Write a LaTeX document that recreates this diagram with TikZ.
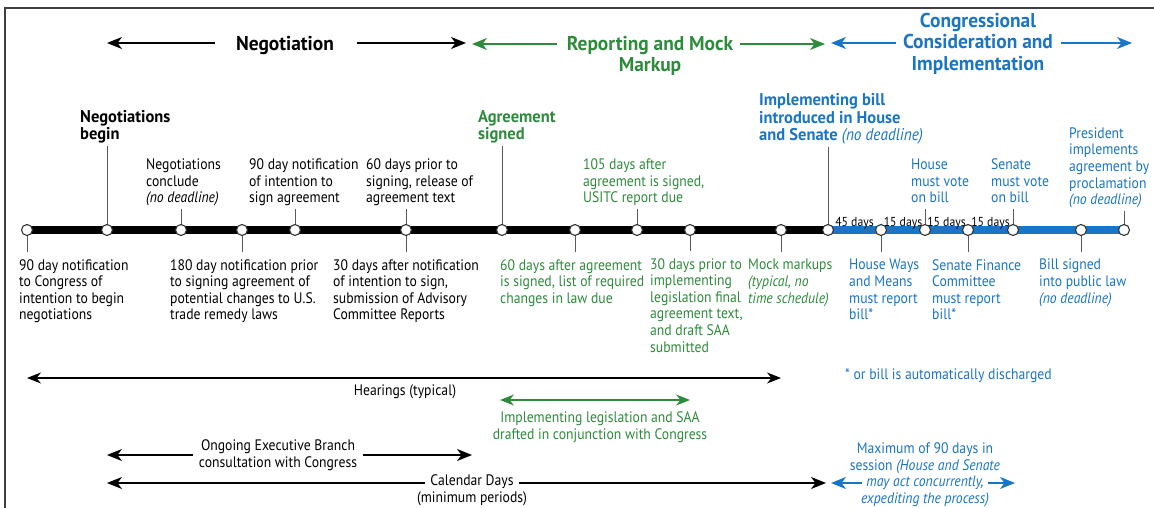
\documentclass[tikz,border=0pt]{standalone}
\usepackage{fontspec}
\setmainfont{PT Sans}[FakeStretch=0.9, BoldFeatures={FakeStretch=0.97}]
\usetikzlibrary{positioning,calc,arrows.meta,backgrounds}
\definecolor{repgreen}{RGB}{46,139,60}
\definecolor{conblue}{RGB}{26,117,196}

\begin{document}
\begin{tikzpicture}[x=1pt, y=1pt,
	ev/.style={circle, draw=black!80, fill=white, line width=1.1pt, minimum size=11pt, inner sep=0pt},
	txt/.style={inner sep=0pt, align=left, font=\fontsize{15.2}{16.6}\selectfont},
	up/.style={txt, anchor=south west, text depth=3pt},
	dn/.style={txt, anchor=north west},
	key/.style={up, font=\fontsize{17}{17.5}\selectfont\bfseries},
	head/.style={inner sep=0pt, align=center, font=\fontsize{20}{21.5}\selectfont\bfseries},
	days/.style={inner sep=0pt, anchor=base, font=\fontsize{13}{13}\selectfont},
	oneline/.style={txt, text height=11pt, text depth=3.5pt},
	stemup/.style={draw=black!65, line width=1pt, shorten >=3pt},
	stemdn/.style={draw=black!65, line width=1pt, shorten >=7pt},
	bar/.style={line width=7.5pt},
	tip/.style={-{Stealth[length=15pt, width=12pt, inset=4.5pt]}, line width=1.6pt},
	both/.style={{Stealth[length=14pt, width=11pt, inset=4.5pt]}-{Stealth[length=14pt, width=11pt, inset=4.5pt]}, line width=1.5pt}]
		\useasboundingbox (0,0) rectangle (1154,-508);
		\draw[black!75, line width=1.3pt] (5,-508) |- (1154,-8);

		\node[head] (neg) at (285,-46) {Negotiation};
		\coordinate (negL) at (107,-43);
		\coordinate (negR) at (466,-43);
		\draw[tip, shorten <=21pt] (neg.west |- negL) -- (negL);
		\draw[tip, shorten <=23pt] (neg.east |- negR) -- (negR);
		\node[head, repgreen, anchor=north] (rep) at (650,-36) {Reporting and Mock\\Markup};
		\coordinate (repL) at (472,-44);
		\coordinate (repR) at (825,-44);
		\draw[tip, repgreen, shorten <=10pt] (rep.west |- repL) -- (repL);
		\draw[tip, repgreen, shorten <=7pt] (rep.east |- repR) -- (repR);
		\node[head, conblue, anchor=north] (con) at (978,-13) {Congressional\\Consideration and\\Implementation};
		\coordinate (conL) at (831,-43);
		\coordinate (conR) at (1132,-43);
		\draw[tip, conblue, shorten <=7pt] (con.west |- conL) -- (conL);
		\draw[tip, conblue, shorten <=8pt] (con.east |- conR) -- (conR);

		\node[ev] (t1) at (27,-230) {};
		\node[ev] (t2) at (107,-230) {};
		\node[ev] (t3) at (181,-230) {};
		\node[ev] (t4) at (242,-230) {};
		\node[ev] (t5) at (295,-230) {};
		\node[ev] (t6) at (406,-230) {};
		\node[ev] (t7) at (502,-230) {};
		\node[ev] (t8) at (575,-230) {};
		\node[ev] (t9) at (637,-230) {};
		\node[ev] (t10) at (690,-230) {};
		\node[ev] (t11) at (781,-230) {};
		\node[ev] (t12) at (828,-230) {};
		\node[ev] (t13) at (881,-230) {};
		\node[ev] (t14) at (925,-230) {};
		\node[ev] (t15) at (968,-230) {};
		\node[ev] (t16) at (1013,-230) {};
		\node[ev] (t17) at (1081,-230) {};
		\node[ev] (t18) at (1124,-230) {};
		\begin{scope}[on background layer]
			\draw[bar] (t1.center) -- (t12.center);
			\draw[bar, conblue] (t12.center) -- (t18.center);
		\end{scope}

		\node[days] (d1) at ($(t12)!.5!(t13)+(0,4)$) {45 days};
		\node[days] (d2) at ($(t13)!.5!(t14)+(0,4)$) {15 days};
		\node[days] (d3) at ($(t14)!.5!(t15)+(0,4)$) {15 days};
		\node[days] (d4) at ($(t15)!.5!(t16)+(0,4)$) {15 days};

		\node[key] (begin) at (80,-143) {Negotiations\\begin};
		\node[up] (conclude) at (146,-206) {Negotiations\\conclude\\\textit{(no deadline)}};
		\node[up] (intent) at (249,-206) {90 day notification\\of intention to\\sign agreement};
		\node[up] (release) at (366,-206) {60 days prior to\\signing, release of\\agreement text};
		\node[key, repgreen] (signed) at (478,-143) {Agreement\\signed};
		\node[up, repgreen] (usitc) at (583,-206) {105 days after\\agreement is signed,\\USITC report due};
		\node[key, conblue] (introduced) at (759,-144) {Implementing bill\\introduced in House\\and Senate \textmd{\textit{(no deadline)}}};
		\node[up, conblue] (housevote) at (911,-206) {House\\must vote\\on bill};
		\node[up, conblue] (senatevote) at (991,-206) {Senate\\must vote\\on bill};
		\node[up, conblue] (proclaim) at (1069,-208) {President\\implements\\agreement by\\proclamation\\\textit{(no deadline)}};

		\node[dn] (start) at (19,-259) {90 day notification\\to Congress of\\intention to begin\\negotiations};
		\node[dn] (remedy) at (170,-259) {180 day notification prior\\to signing agreement of\\potential changes to U.S.\\trade remedy laws};
		\node[dn] (advisory) at (333,-259) {30 days after notification\\of intention to sign,\\submission of Advisory\\Committee Reports};
		\node[dn, repgreen] (changes) at (500,-259) {60 days after agreement\\is signed, list of required\\changes in law due};
		\node[dn, repgreen] (draft) at (650,-258) {30 days prior to\\implementing\\legislation final\\agreement text,\\and draft SAA\\submitted};
		\node[dn, repgreen] (mock) at (748,-259) {Mock markups\\\textit{(typical, no}\\\textit{time schedule)}};
		\node[dn, conblue] (ways) at (849,-259) {House Ways\\and Means\\must report\\bill*};
		\node[dn, conblue] (finance) at (932,-259) {Senate Finance\\Committee\\must report\\bill*};
		\node[dn, conblue] (law) at (1039,-259) {Bill signed\\into public law\\\textit{(no deadline)}};

		\draw[stemup] (t2) -- (t2 |- begin.south);
		\draw[stemup] (t3) -- (t3 |- conclude.south);
		\draw[stemup] (t5) -- (t5 |- intent.south);
		\draw[stemup] (t6) -- (t6 |- release.south);
		\draw[stemup] (t7) -- (t7 |- signed.south);
		\draw[stemup] (t9) -- (t9 |- usitc.south);
		\draw[stemup] (t12) -- (t12 |- introduced.south);
		\draw[stemup] (t14) -- (t14 |- housevote.south);
		\draw[stemup] (t16) -- (t16 |- senatevote.south);
		\draw[stemup] (t18) -- (t18 |- proclaim.south);
		\draw[stemdn] (t1) -- (t1 |- start.north);
		\draw[stemdn] (t4) -- (t4 |- remedy.north);
		\draw[stemdn] (t6) -- (t6 |- advisory.north);
		\draw[stemdn] (t8) -- (t8 |- changes.north);
		\draw[stemdn] (t10) -- (t10 |- draft.north);
		\draw[stemdn] (t11) -- (t11 |- mock.north);
		\draw[stemdn] (t13) -- (t13 |- ways.north);
		\draw[stemdn] (t15) -- (t15 |- finance.north);
		\draw[stemdn] (t17) -- (t17 |- law.north);

		\coordinate (hearL) at (27,-378);
		\coordinate (hearR) at (781,-378);
		\draw[both] (hearL) -- (hearR);
		\node[txt] (hear) at (405,-392) {Hearings (typical)};
		\node[txt, conblue, anchor=west] (star) at (845,-376) {* or bill is automatically discharged};

		\coordinate (saaL) at (500,-400);
		\coordinate (saaR) at (690,-400);
		\draw[both, repgreen] (saaL) -- (saaR);
		\node[txt, align=center, repgreen] (saa) at (600,-427) {Implementing legislation and SAA\\drafted in conjunction with Congress};

		\node[txt, align=center] (exec) at (278,-455) {Ongoing Executive Branch\\consultation with Congress};
		\coordinate (execL) at (107,-455);
		\coordinate (execR) at (472,-455);
		\draw[tip, shorten <=6pt] (exec) -- (execL);
		\draw[tip, shorten <=6pt] (exec) -- (execR);

		\node[oneline] (cal) at (472,-482) {Calendar Days};
		\node[oneline, below=2pt of cal] (calsub) {(minimum periods)};
		\coordinate (calL) at (107,-483);
		\coordinate (calR) at (826,-483);
		\draw[tip, shorten <=5pt] (cal.west |- calL) -- (calL);
		\draw[tip, shorten <=5pt] (cal.east |- calR) -- (calR);

		\node[oneline, conblue] (maxb) at (925,-483) {\textit{may act concurrently,}};
		\node[txt, align=center, conblue, above=2pt of maxb] (maxa) {Maximum of 90 days in\\session \textit{(House and Senate}};
		\node[oneline, conblue, below=2pt of maxb] (maxc) {\textit{expediting the process)}};
		\coordinate (maxL) at (831,-483);
		\coordinate (maxR) at (1015,-483);
		\draw[tip, conblue, shorten <=4pt] (maxb.west |- maxL) -- (maxL);
		\draw[tip, conblue, shorten <=4pt] (maxb.east |- maxR) -- (maxR);
	\end{tikzpicture}
\end{document}
